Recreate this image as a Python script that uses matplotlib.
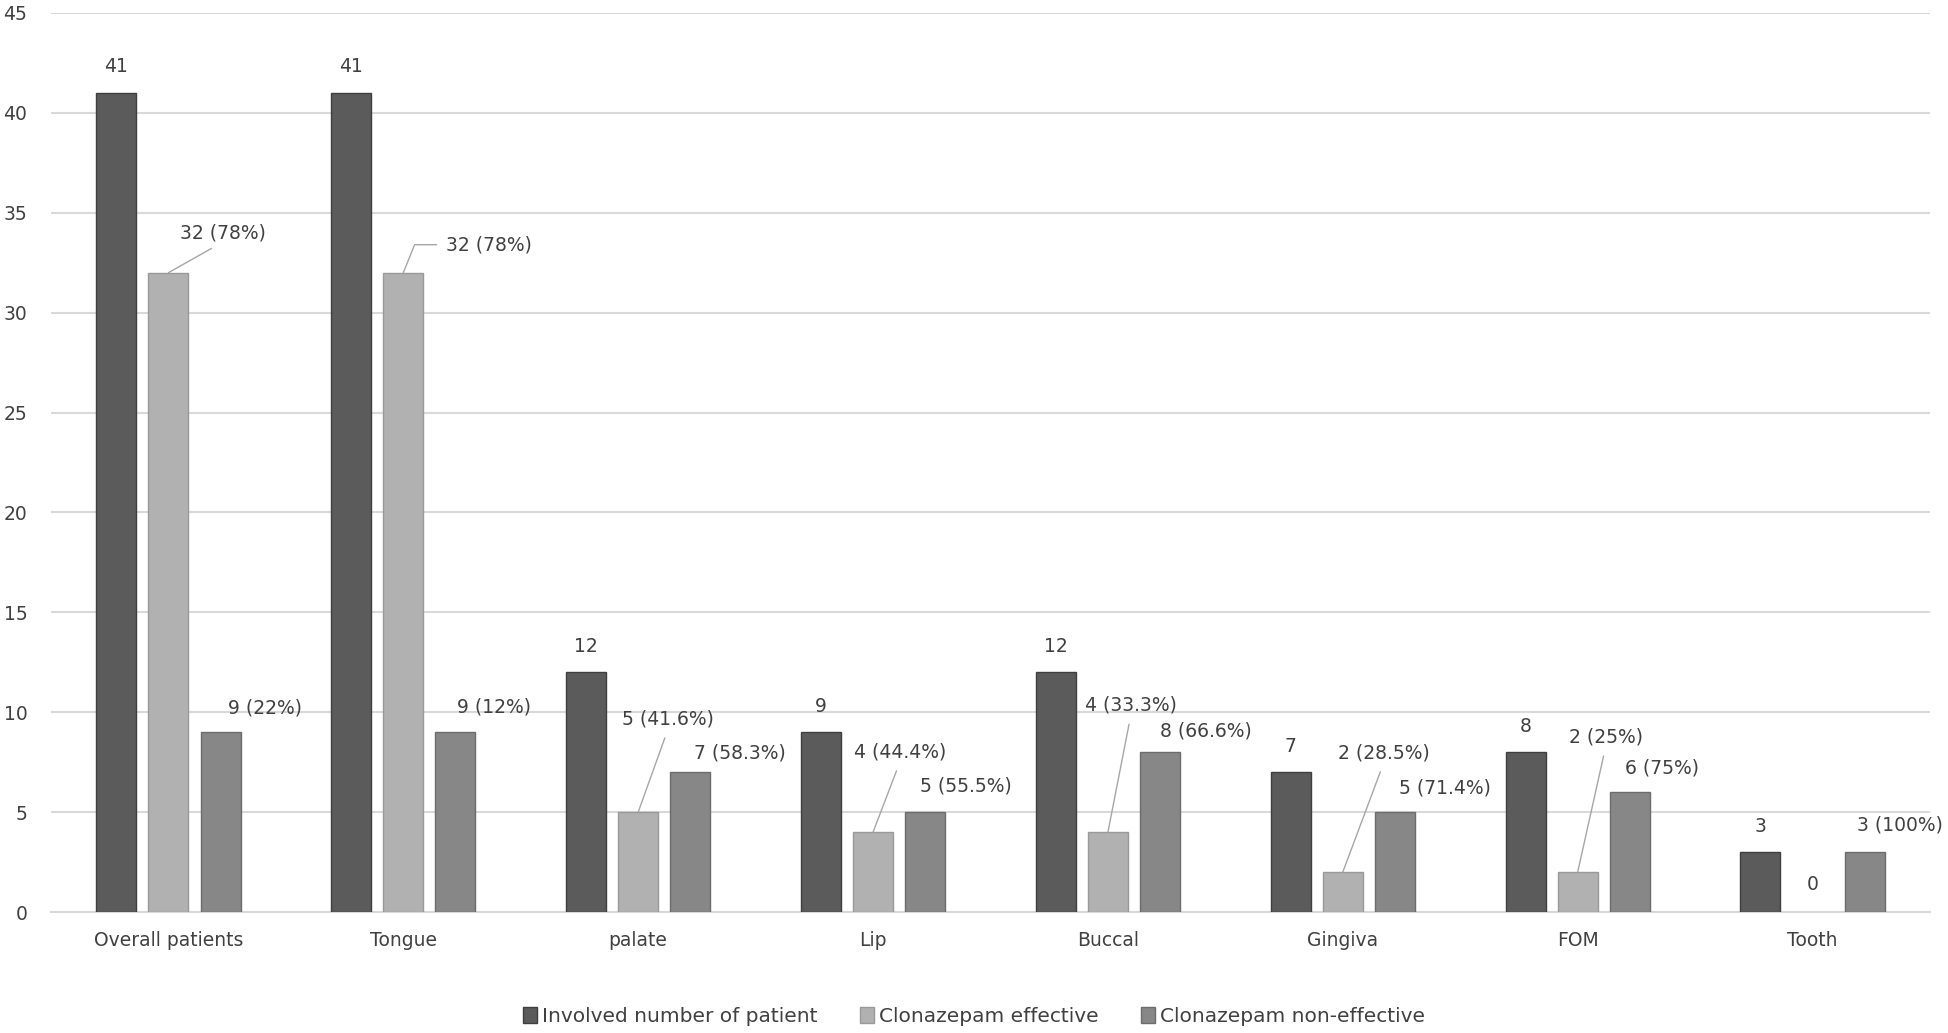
import numpy as np
import matplotlib
matplotlib.use('Agg')
import matplotlib.pyplot as plt

# data
categories = ['Overall patients', 'Tongue', 'palate', 'Lip', 'Buccal', 'Gingiva', 'FOM', 'Tooth']
involved = [41, 41, 12, 9, 12, 7, 8, 3]
effective = [32, 32, 5, 4, 4, 2, 2, 0]
non_effective = [9, 9, 7, 5, 8, 5, 6, 3]
eff_labels = ['32 (78%)', '32 (78%)', '5 (41.6%)', '4 (44.4%)', '4 (33.3%)', '2 (28.5%)', '2 (25%)', '0']
non_labels = ['9 (22%)', '9 (12%)', '7 (58.3%)', '5 (55.5%)', '8 (66.6%)', '5 (71.4%)', '6 (75%)', '3 (100%)']
series_names = ['Involved number of patient', 'Clonazepam effective', 'Clonazepam non-effective']

# label offsets (pixels, text centre relative to bar top centre)
eff_offsets = [(54, 40), (86, 28), (30, 93), (27, 80), (23, 127), (41, 119), (28, 135), (0, 27)]
non_offsets = [(44, 24), (39, 25), (50, 19), (41, 26), (46, 21), (50, 24), (32, 24), (35, 27)]

c_dark, c_light, c_mid = '#5b5b5b', '#b1b1b1', '#878787'
e_dark, e_light, e_mid = '#3f3f3f', '#999999', '#6c6c6c'
txt = '#404040'

plt.rcParams['font.family'] = ['DejaVu Sans']

fig = plt.figure(figsize=(19.48, 10.33), dpi=100)
ax = fig.add_axes([51/1948, 1-912/1033, (1930-51)/1948, (912-13)/1033])

x = np.arange(len(categories))
w = 0.17
off = 0.222
b1 = ax.bar(x - off, involved, w, color=c_dark, edgecolor=e_dark, linewidth=1, label=series_names[0], zorder=3)
b2 = ax.bar(x, effective, w, color=c_light, edgecolor=e_light,
            linewidth=[1 if v > 0 else 0 for v in effective], label=series_names[1], zorder=3)
b3 = ax.bar(x + off, non_effective, w, color=c_mid, edgecolor=e_mid, linewidth=1, label=series_names[2], zorder=3)

ax.set_xlim(-0.5, len(categories) - 0.5)
ax.set_ylim(0, 45)
ax.set_yticks(np.arange(0, 46, 5))
ax.set_xticks(x)
ax.set_xticklabels(categories)
fs = 13.5
ax.tick_params(axis='both', length=0, labelsize=fs, labelcolor=txt)
ax.tick_params(axis='y', pad=17)
ax.tick_params(axis='x', pad=14)
ax.yaxis.grid(True, color='#d9d9d9', linewidth=1.5)
ax.set_axisbelow(True)
for s in ['top', 'right', 'left']:
    ax.spines[s].set_visible(False)
ax.spines['bottom'].set_color('#d9d9d9')
ax.spines['bottom'].set_linewidth(1.5)

for i in range(len(categories)):
    ax.annotate(str(involved[i]), (x[i] - off, involved[i]), xytext=(0, 26),
                textcoords='offset pixels', ha='center', va='center', fontsize=fs, color=txt)
    ax.annotate(non_labels[i], (x[i] + off, non_effective[i]), xytext=non_offsets[i],
                textcoords='offset pixels', ha='center', va='center', fontsize=fs, color=txt)
    dx, dy = eff_offsets[i]
    if effective[i] == 0:
        ax.annotate(eff_labels[i], (x[i], effective[i]), xytext=(dx, dy),
                    textcoords='offset pixels', ha='center', va='center', fontsize=fs, color=txt)
    elif i == 1:
        ax.annotate(eff_labels[i], (x[i], effective[i]), xytext=(dx, dy),
                    textcoords='offset pixels', ha='center', va='center', fontsize=fs, color=txt,
                    arrowprops=dict(arrowstyle='-', color='#a6a6a6', lw=1, relpos=(0, 0.5),
                                    connectionstyle='angle,angleA=0,angleB=68,rad=0',
                                    shrinkA=5, shrinkB=0))
    else:
        ax.annotate(eff_labels[i], (x[i], effective[i]), xytext=(dx, dy),
                    textcoords='offset pixels', ha='center', va='center', fontsize=fs, color=txt,
                    arrowprops=dict(arrowstyle='-', color='#a6a6a6', lw=1, relpos=(0.5, 0),
                                    shrinkA=5, shrinkB=0))

fig.legend(handles=[b1, b2, b3], labels=series_names, loc='center', bbox_to_anchor=(0.5, 0.016),
           ncol=3, frameon=False, fontsize=14.5, handlelength=0.7, handleheight=0.85,
           handletextpad=0.25, columnspacing=2.1, labelcolor=txt)

fig.savefig('out.png', dpi=100)
